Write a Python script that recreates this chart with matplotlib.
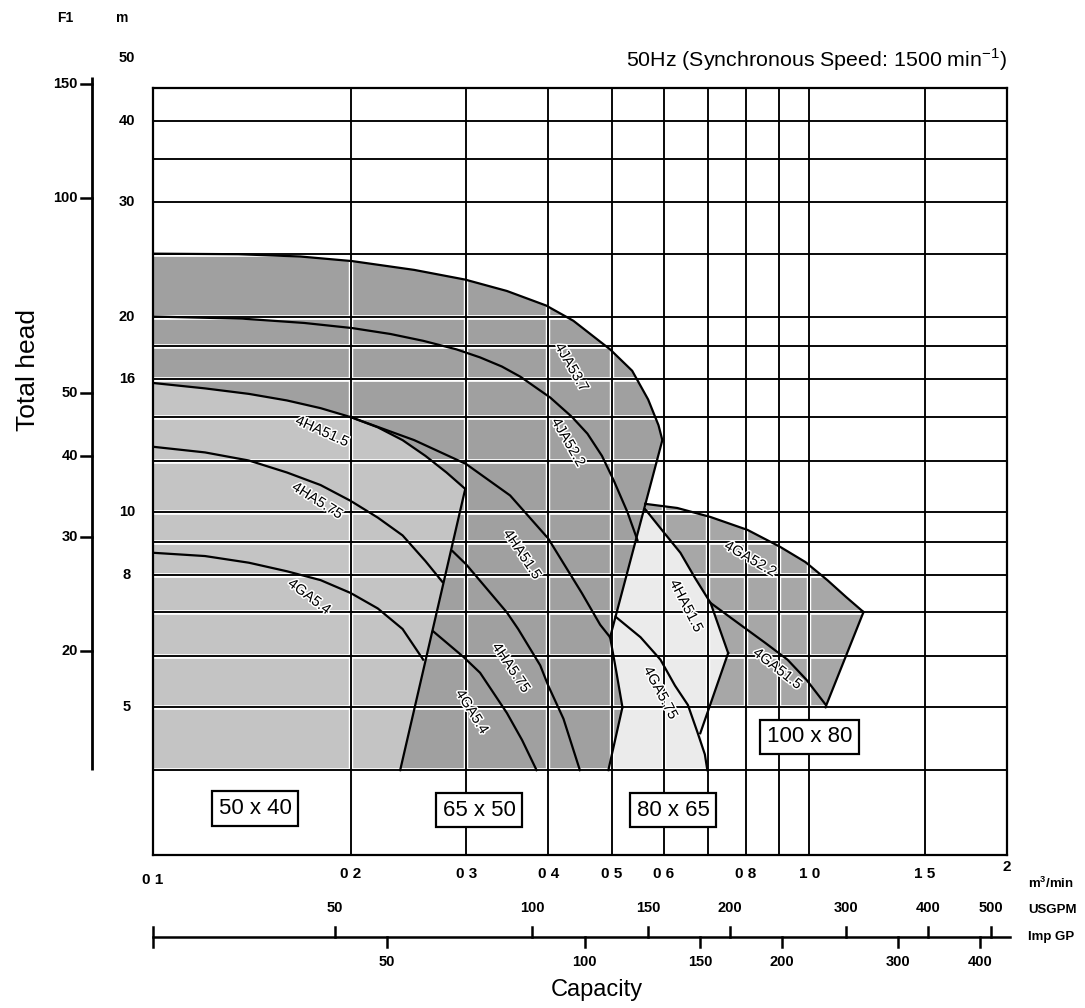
import matplotlib
matplotlib.use('Agg')
import matplotlib.pyplot as plt
from matplotlib.ticker import NullLocator
from matplotlib.transforms import blended_transform_factory
import matplotlib.patheffects as pe

plt.rcParams['font.family'] = ['Liberation Sans', 'DejaVu Sans']

# ---------------- axis data ----------------
q_grid = [0.2, 0.3, 0.4, 0.5, 0.6, 0.7, 0.8, 0.9, 1.0, 1.5]
h_grid = [4, 5, 6, 7, 8, 9, 10, 12, 14, 16, 18, 20, 25, 30, 35, 40]
q_tick_vals = [0.1, 0.2, 0.3, 0.4, 0.5, 0.6, 0.8, 1.0, 1.5, 2.0]
q_tick_labels = ['0 1', '0 2', '0 3', '0 4', '0 5', '0 6', '0 8', '1 0', '1 5', '2']
h_tick_vals = [50, 40, 30, 20, 16, 10, 8, 5]
ft_tick_vals = [150, 100, 50, 40, 30, 20]
usgpm_vals = [50, 100, 150, 200, 300, 400, 500]
impgp_vals = [50, 100, 150, 200, 300, 400]

M_PER_FT = 0.3048
M3MIN_PER_USGPM = 0.003785
M3MIN_PER_IMPGP = 0.004546

# ---------------- 50 x 40 ----------------
q_50_4HA51_5 = [0.10, 0.12, 0.14, 0.16, 0.18, 0.20, 0.22, 0.24, 0.26, 0.28, 0.299]
h_50_4HA51_5 = [15.8, 15.5, 15.2, 14.85, 14.45, 14.0, 13.5, 12.9, 12.2, 11.5, 10.85]
q_50_4HA5_75 = [0.10, 0.12, 0.14, 0.16, 0.18, 0.20, 0.22, 0.24, 0.26, 0.276]
h_50_4HA5_75 = [12.6, 12.35, 12.0, 11.5, 11.0, 10.4, 9.8, 9.2, 8.4, 7.8]
q_50_4GA5_4 = [0.10, 0.12, 0.14, 0.16, 0.18, 0.20, 0.22, 0.24, 0.258]
h_50_4GA5_4 = [8.65, 8.55, 8.35, 8.1, 7.85, 7.5, 7.1, 6.6, 5.92]

# ---------------- 65 x 50 ----------------
q_65_4JA53_7 = [0.10, 0.135, 0.1675, 0.201, 0.25, 0.299, 0.346, 0.397, 0.437, 0.497, 0.537, 0.568, 0.589, 0.597]
h_65_4JA53_7 = [25.0, 24.95, 24.75, 24.35, 23.6, 22.8, 21.9, 20.8, 19.7, 17.8, 16.5, 14.9, 13.6, 12.9]
q_65_4JA52_2 = [0.10, 0.137, 0.17, 0.201, 0.23, 0.258, 0.29, 0.315, 0.34, 0.363, 0.403, 0.435, 0.459, 0.483, 0.503, 0.528, 0.547]
h_65_4JA52_2 = [20.0, 19.85, 19.55, 19.2, 18.8, 18.35, 17.8, 17.3, 16.75, 16.15, 15.0, 14.0, 13.2, 12.2, 11.2, 10.0, 9.05]
q_65_4HA51_5 = [0.20, 0.25, 0.30, 0.35, 0.40, 0.45, 0.48, 0.497, 0.508, 0.519]
h_65_4HA51_5 = [14.0, 12.9, 11.85, 10.6, 9.1, 7.5, 6.7, 6.41, 5.67, 5.0]
q_65_4HA5_75 = [0.286, 0.30, 0.323, 0.346, 0.36, 0.389, 0.40, 0.422, 0.447]
h_65_4HA5_75 = [8.7, 8.3, 7.6, 7.0, 6.6, 5.8, 5.4, 4.8, 4.0]
q_65_4GA5_4 = [0.267, 0.297, 0.315, 0.346, 0.365, 0.384]
h_65_4GA5_4 = [6.55, 5.98, 5.65, 4.9, 4.45, 4.0]
q_65_left_bound = [0.299, 0.238]
h_65_left_bound = [10.85, 4.0]
q_65_right_bound = [0.597, 0.497]
h_65_right_bound = [12.9, 6.41]
q_65_low_bound = [0.519, 0.494]
h_65_low_bound = [5.0, 4.0]

# ---------------- 80 x 65 ----------------
q_80_4HA51_5 = [0.562, 0.60, 0.636, 0.67, 0.707, 0.73, 0.752]
h_80_4HA51_5 = [10.1, 9.3, 8.65, 7.9, 7.24, 6.6, 6.06]
q_80_4GA5_75 = [0.507, 0.553, 0.593, 0.624, 0.653, 0.675, 0.693, 0.699]
h_80_4GA5_75 = [6.89, 6.41, 5.92, 5.40, 5.04, 4.58, 4.23, 4.0]
q_80_right_bound = [0.752, 0.682]
h_80_right_bound = [6.06, 4.56]

# ---------------- 100 x 80 ----------------
q_100_4GA52_2 = [0.562, 0.629, 0.707, 0.805, 0.903, 0.986, 1.065, 1.138, 1.209]
h_100_4GA52_2 = [10.29, 10.14, 9.82, 9.38, 8.83, 8.37, 7.85, 7.39, 7.01]
q_100_4GA51_5 = [0.707, 0.793, 0.857, 0.926, 0.990, 1.058]
h_100_4GA51_5 = [7.24, 6.65, 6.28, 5.92, 5.51, 5.05]
q_100_right_bound = [1.209, 1.058]
h_100_right_bound = [7.01, 5.0]
q_100_left_bound = [0.66, 0.562]
h_100_left_bound = [5.0, 10.29]

# ---------------- figure ----------------
W, H = 1085, 1008
fig = plt.figure(figsize=(W / 100, H / 100), dpi=100)
L, R, T, B = 153, 1007, 88, 855
ax = fig.add_axes([L / W, 1 - B / H, (R - L) / W, (B - T) / H])
ax.set_xscale('log')
ax.set_yscale('log')
ax.set_xlim(0.1, 2.0)
ax.set_ylim(2.96, 45)
for a in (ax.xaxis, ax.yaxis):
    a.set_major_locator(NullLocator())
    a.set_minor_locator(NullLocator())
for s in ax.spines.values():
    s.set_linewidth(1.6)
    s.set_zorder(6)

C50 = '#c4c4c4'
C65 = '#a0a0a0'
C80 = '#ebebeb'
C100 = '#a7a7a7'

q_left = q_50_4HA51_5[0]
h_floor = h_grid[0]

# regions
ax.fill(q_100_4GA52_2 + q_100_right_bound[1:] + q_100_left_bound,
        h_100_4GA52_2 + h_100_right_bound[1:] + h_100_left_bound,
        color=C100, lw=0, zorder=1)
ax.fill(q_65_4JA53_7 + q_65_right_bound[1:] + q_65_4HA51_5[-2:] + q_65_low_bound[1:] + [q_left],
        h_65_4JA53_7 + h_65_right_bound[1:] + h_65_4HA51_5[-2:] + h_65_low_bound[1:] + [h_floor],
        color=C65, lw=0, zorder=1)
ax.fill([q_80_4HA51_5[0]] + q_65_right_bound[1:] + q_65_4HA51_5[-2:] + q_65_low_bound[1:]
        + [q_80_4GA5_75[-1]] + q_80_right_bound[::-1] + q_80_4HA51_5[::-1],
        [h_80_4HA51_5[0]] + h_65_right_bound[1:] + h_65_4HA51_5[-2:] + h_65_low_bound[1:]
        + [h_80_4GA5_75[-1]] + h_80_right_bound[::-1] + h_80_4HA51_5[::-1],
        color=C80, lw=0, zorder=1.2)
ax.fill([q_left] + q_50_4HA51_5 + q_65_left_bound[1:],
        [h_floor] + h_50_4HA51_5 + h_65_left_bound[1:],
        color=C50, lw=0, zorder=1.3)

# grid with white halo
for q in q_grid:
    ax.axvline(q, color='white', lw=3.2, zorder=2)
    ax.axvline(q, color='black', lw=1.35, zorder=3)
for h in h_grid:
    ax.axhline(h, color='white', lw=3.4, zorder=2)
    ax.axhline(h, color='black', lw=1.35, zorder=3)

curves = [
    (q_50_4HA51_5, h_50_4HA51_5), (q_50_4HA5_75, h_50_4HA5_75), (q_50_4GA5_4, h_50_4GA5_4),
    (q_65_4JA53_7, h_65_4JA53_7), (q_65_4JA52_2, h_65_4JA52_2), (q_65_4HA51_5, h_65_4HA51_5),
    (q_65_4HA5_75, h_65_4HA5_75), (q_65_4GA5_4, h_65_4GA5_4),
    (q_65_left_bound, h_65_left_bound), (q_65_right_bound, h_65_right_bound),
    (q_65_low_bound, h_65_low_bound),
    (q_80_4HA51_5, h_80_4HA51_5), (q_80_4GA5_75, h_80_4GA5_75),
    (q_80_right_bound, h_80_right_bound),
    (q_100_4GA52_2, h_100_4GA52_2), (q_100_4GA51_5, h_100_4GA51_5),
    (q_100_right_bound, h_100_right_bound),
]
for qs, hs in curves:
    ax.plot(qs, hs, color='black', lw=1.6, zorder=4, solid_joinstyle='round')

# curve labels
halo = [pe.withStroke(linewidth=2.2, foreground='white')]
curve_labels = [
    ('4JA53.7', 0.434, 16.7, -60), ('4JA52.2', 0.429, 12.8, -60),
    ('4HA51.5', 0.181, 13.3, -24), ('4HA5.75', 0.178, 10.4, -32),
    ('4GA5.4', 0.173, 7.4, -37), ('4HA51.5', 0.365, 8.6, -56),
    ('4HA5.75', 0.351, 5.75, -56), ('4GA5.4', 0.306, 4.92, -58),
    ('4GA52.2', 0.813, 8.46, -30), ('4HA51.5', 0.649, 7.16, -63),
    ('4GA51.5', 0.894, 5.73, -38), ('4GA5.75', 0.593, 5.26, -62),
]
for txt, q, h, rot in curve_labels:
    ax.text(q, h, txt, rotation=rot, rotation_mode='anchor', ha='center', va='center',
            fontsize=10.5, zorder=5, path_effects=halo)

# size boxes
box = dict(boxstyle='square,pad=0.3', fc='white', ec='black', lw=1.6)
for txt, q, h in [('50 x 40', 0.143, 3.49), ('65 x 50', 0.314, 3.47),
                  ('80 x 65', 0.620, 3.47), ('100 x 80', 1.0, 4.5)]:
    ax.text(q, h, txt, ha='center', va='center', fontsize=16, zorder=7, bbox=box)

# ---------------- left scales ----------------
ty = blended_transform_factory(ax.transAxes, ax.transData)
for h in h_tick_vals:
    ax.text((127 - L) / (R - L), h, str(h), transform=ty, ha='center', va='center',
            fontsize=10.5, fontweight='bold', clip_on=False)
x_line = (92 - L) / (R - L)
x_tick = (81 - L) / (R - L)
ax.plot([x_line, x_line], [ft_tick_vals[0] * M_PER_FT * 1.025, h_floor], transform=ty,
        color='black', lw=2.0, clip_on=False, solid_capstyle='butt')
for f in ft_tick_vals:
    ax.plot([x_tick, x_line], [f * M_PER_FT] * 2, transform=ty, color='black', lw=1.8,
            clip_on=False)
    ax.text((78 - L) / (R - L), f * M_PER_FT, str(f), transform=ty, ha='right', va='center',
            fontsize=10.5, fontweight='bold', clip_on=False)
fig.text(65 / W, 1 - 18 / H, 'F1', ha='center', va='center', fontsize=10, fontweight='bold')
fig.text(122 / W, 1 - 18 / H, 'm', ha='center', va='center', fontsize=10, fontweight='bold')
fig.text(28 / W, 1 - 370 / H, 'Total head', rotation=90, ha='center', va='center', fontsize=19)

# ---------------- bottom scales ----------------
tx = blended_transform_factory(ax.transData, fig.transFigure)
for q, lab in zip(q_tick_vals, q_tick_labels):
    yy = 880 if q == q_tick_vals[0] else (867 if q == q_tick_vals[-1] else 874)
    ax.text(q, 1 - yy / H, lab, transform=tx, ha='center', va='center', fontsize=11,
            fontweight='bold', clip_on=False)
y_line = 1 - 937 / H
dy = 10 / H
ax.plot([0.1, 2.02], [y_line, y_line], transform=tx, color='black', lw=1.8, clip_on=False)
ax.plot([0.1, 0.1], [y_line - dy, y_line + dy], transform=tx, color='black', lw=1.8, clip_on=False)
for g in usgpm_vals:
    q = g * M3MIN_PER_USGPM
    ax.plot([q, q], [y_line, y_line + dy], transform=tx, color='black', lw=1.8, clip_on=False)
    ax.text(q, 1 - 908 / H, str(g), transform=tx, ha='center', va='center', fontsize=10.5,
            fontweight='bold', clip_on=False)
for g in impgp_vals:
    q = g * M3MIN_PER_IMPGP
    ax.plot([q, q], [y_line, y_line - dy], transform=tx, color='black', lw=1.8, clip_on=False)
    ax.text(q, 1 - 962 / H, str(g), transform=tx, ha='center', va='center', fontsize=10.5,
            fontweight='bold', clip_on=False)
fig.text(1028 / W, 1 - 883 / H, 'm$^{\\mathregular{3}}$/min', ha='left', va='center', fontsize=9.5, fontweight='bold')
fig.text(1028 / W, 1 - 910 / H, 'USGPM', ha='left', va='center', fontsize=9.5, fontweight='bold')
fig.text(1028 / W, 1 - 937 / H, 'Imp GP', ha='left', va='center', fontsize=9.5, fontweight='bold')
fig.text(597 / W, 1 - 990 / H, 'Capacity', ha='center', va='center', fontsize=17)

fig.text(1007 / W, 1 - 60 / H, '50Hz (Synchronous Speed: 1500 min$^{\\mathregular{-1}}$)',
         ha='right', va='center', fontsize=15.4)

fig.savefig('out.png', dpi=100)
